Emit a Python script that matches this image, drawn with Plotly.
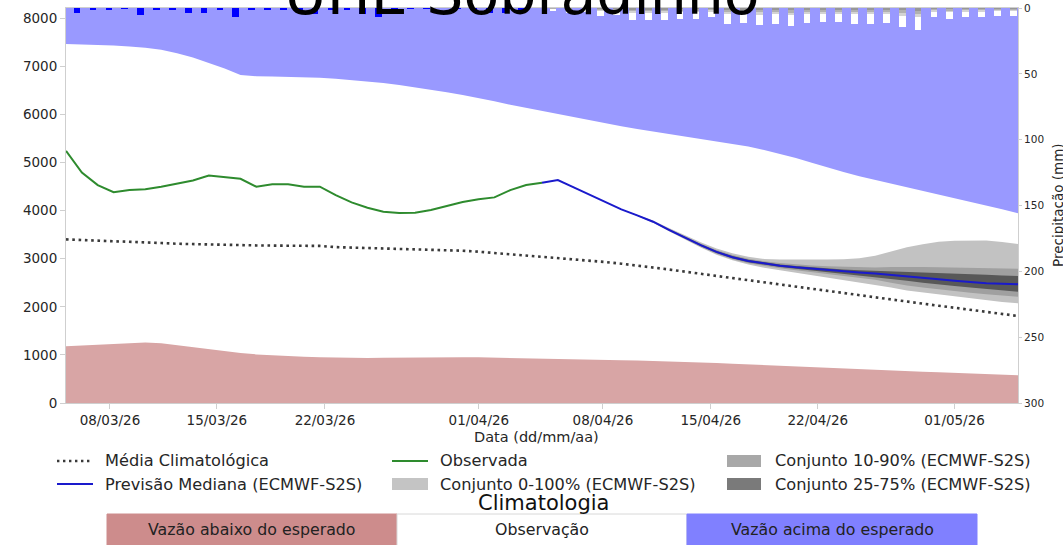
import plotly.graph_objects as go

# ---------------------------------------------------------------- data
day = list(range(61))  # daily index along the horizontal axis

tick_pos = [2.77, 9.51, 16.32, 26.02, 33.84, 40.64, 47.38, 56.0]
tick_text = ["08/03/26", "15/03/26", "22/03/26", "01/04/26",
             "08/04/26", "15/04/26", "22/04/26", "01/05/26"]

# climatology: upper limit, lower limit and mean (m3/s), one value per day
clim_high = [7460, 7455, 7445, 7430, 7410, 7385, 7340, 7270, 7180, 7070,
             6950, 6820, 6790, 6785, 6780, 6770, 6760, 6740, 6715, 6685,
             6650, 6610, 6565, 6515, 6460, 6400, 6340, 6270, 6200, 6135,
             6065, 6000, 5935, 5870, 5810, 5750, 5695, 5645, 5595, 5545,
             5495, 5445, 5390, 5330, 5260, 5180, 5090, 4995, 4895, 4800,
             4715, 4640, 4565, 4490, 4410, 4335, 4255, 4180, 4100, 4025,
             3945]
clim_low = [1180, 1195, 1210, 1225, 1245, 1260, 1240, 1200, 1150, 1110,
            1075, 1040, 1010, 990, 975, 960, 950, 940, 935, 935,
            940, 945, 950, 952, 953, 953, 950, 945, 935, 925,
            915, 910, 905, 900, 895, 890, 883, 875, 865, 855,
            843, 830, 815, 800, 785, 770, 755, 740, 725, 712,
            700, 688, 675, 662, 650, 638, 625, 612, 600, 588,
            575]
clim_mean = [3400, 3390, 3380, 3370, 3355, 3340, 3325, 3310, 3300, 3290,
             3285, 3280, 3275, 3272, 3270, 3268, 3265, 3240, 3230, 3225,
             3220, 3212, 3205, 3195, 3180, 3165, 3145, 3120, 3095, 3065,
             3040, 3015, 2990, 2960, 2930, 2895, 2860, 2820, 2775, 2730,
             2685, 2640, 2595, 2550, 2505, 2460, 2415, 2370, 2325, 2280,
             2235, 2190, 2148, 2105, 2060, 2020, 1980, 1940, 1900, 1855,
             1808]

# observed inflow (days 0-30)
observed = [5240, 4790, 4530, 4380, 4425, 4445, 4495, 4565, 4625, 4730,
            4695, 4660, 4495, 4545, 4545, 4495, 4495, 4320, 4170, 4058,
            3975, 3948, 3955, 4010, 4094, 4177, 4233, 4274, 4426, 4530,
            4578]
obs_start = 0

# median forecast (days 30-60)
fc_median = [4578, 4634, 4482, 4330, 4177, 4025, 3900, 3768, 3600, 3440,
             3280, 3140, 3030, 2950, 2895, 2855, 2820, 2790, 2765, 2740,
             2715, 2692, 2665, 2640, 2605, 2572, 2540, 2510, 2490, 2478,
             2470]
fc_start = 30

# ensemble percentiles (days 35-60)
ens_start = 35
ens_p0 = [4025, 3888, 3745, 3570, 3400, 3230, 3080, 2965, 2880, 2810,
          2760, 2710, 2660, 2610, 2560, 2510, 2460, 2400, 2340, 2300,
          2260, 2220, 2176, 2130, 2100, 2072]
ens_p10 = [4025, 3893, 3755, 3582, 3415, 3248, 3100, 2990, 2905, 2845,
           2800, 2760, 2720, 2680, 2640, 2600, 2560, 2500, 2440, 2400,
           2360, 2330, 2290, 2260, 2230, 2209]
ens_p25 = [4025, 3897, 3762, 3592, 3428, 3262, 3120, 3008, 2925, 2870,
           2825, 2790, 2755, 2720, 2690, 2660, 2620, 2580, 2540, 2500,
           2460, 2430, 2400, 2370, 2340, 2313]
ens_p75 = [4025, 3903, 3775, 3610, 3452, 3298, 3160, 3055, 2975, 2920,
           2880, 2850, 2820, 2795, 2775, 2760, 2750, 2740, 2730, 2715,
           2705, 2690, 2680, 2665, 2650, 2639]
ens_p90 = [4025, 3907, 3782, 3620, 3465, 3315, 3180, 3075, 3000, 2945,
           2910, 2880, 2860, 2840, 2830, 2820, 2815, 2825, 2830, 2825,
           2820, 2815, 2810, 2805, 2800, 2791]
ens_p100 = [4025, 3912, 3795, 3635, 3485, 3340, 3210, 3110, 3040, 2995,
            2985, 2980, 2980, 2985, 2990, 3010, 3060, 3150, 3235, 3300,
            3350, 3370, 3380, 3375, 3345, 3304]

# daily precipitation (mm): observed days 0-29, forecast days 30-59
precip_obs = [4.0, 1.5, 1.5, 0.3, 5.0, 1.5, 1.0, 3.8, 3.8, 1.5,
              7.0, 1.5, 1.5, 1.0, 3.5, 4.5, 1.5, 1.0, 4.5, 7.0,
              1.5, 0.3, 0.2, 0.0, 0.3, 1.5, 3.5, 3.5, 1.5, 0.0]
precip_fc = [2.3, 3.8, 2.7, 6.1, 5.3, 9.1, 9.1, 9.1, 8.4, 8.4,
             6.8, 12.1, 11.4, 12.9, 12.1, 13.7, 11.4, 10.6, 10.6, 12.1,
             12.1, 11.4, 14.4, 16.7, 6.8, 8.4, 6.8, 6.8, 6.1, 6.1]

legend_labels = ["Média Climatológica", "Previsão Mediana (ECMWF-S2S)",
                 "Observada", "Conjunto 0-100% (ECMWF-S2S)",
                 "Conjunto 10-90% (ECMWF-S2S)", "Conjunto 25-75% (ECMWF-S2S)"]
box_labels = ["Vazão abaixo do esperado", "Observação", "Vazão acima do esperado"]

# ---------------------------------------------------------------- layout constants
W, H = 1063, 545
PL, PR, PT, PB = 66, 1018, 8, 403          # plot area edges in pixels
Y_MAX = 8210
P_MAX = 300
BAR_SHIFT = 0.7
BAR_W = 0.42
FONT = "DejaVu Sans"
TXT = "#262626"
SPINE = "#cfcfcf"

BLUE_FILL = "#9999ff"
PINK_FILL = "#d8a5a5"
BLUE_BOX = "#8080ff"
PINK_BOX = "#cd8c8c"
ENS_COL = ["#c2c2c2", "#a0a0a0", "#585858"]
ENS_LEG = ["#c4c4c4", "#a8a8a8", "#7a7a7a"]
OBS_COL = "#2e8b2e"
FC_COL = "#1a1acc"
MEAN_COL = "#3a3a3a"


def px(x):
    return (x - PL) / (PR - PL)


def py(y):
    return (PB - y) / (PB - PT)


fig = go.Figure()

# climatology bands
fig.add_trace(go.Scatter(x=day, y=clim_high, mode="lines", line=dict(width=0),
                         hoverinfo="skip", showlegend=False))
fig.add_trace(go.Scatter(x=day, y=[Y_MAX] * len(day), mode="lines", line=dict(width=0),
                         fill="tonexty", fillcolor=BLUE_FILL, hoverinfo="skip",
                         showlegend=False))
fig.add_trace(go.Scatter(x=day, y=clim_low, mode="lines", line=dict(width=0),
                         fill="tozeroy", fillcolor=PINK_FILL, hoverinfo="skip",
                         showlegend=False))

# ensemble bands
ens_x = day[ens_start:]
for lo, hi, col in [(ens_p0, ens_p100, ENS_COL[0]),
                    (ens_p10, ens_p90, ENS_COL[1]),
                    (ens_p25, ens_p75, ENS_COL[2])]:
    fig.add_trace(go.Scatter(x=ens_x, y=lo, mode="lines", line=dict(width=0),
                             hoverinfo="skip", showlegend=False))
    fig.add_trace(go.Scatter(x=ens_x, y=hi, mode="lines", line=dict(width=0),
                             fill="tonexty", fillcolor=col, hoverinfo="skip",
                             showlegend=False))

# climatological mean, observed and forecast median
fig.add_trace(go.Scatter(x=day, y=clim_mean, mode="lines",
                         line=dict(color=MEAN_COL, width=2.6, dash="2.6px,3.7px"),
                         showlegend=False))
fig.add_trace(go.Scatter(x=day[obs_start:obs_start + len(observed)], y=observed,
                         mode="lines", line=dict(color=OBS_COL, width=2),
                         showlegend=False))
fig.add_trace(go.Scatter(x=day[fc_start:fc_start + len(fc_median)], y=fc_median,
                         mode="lines", line=dict(color=FC_COL, width=2),
                         showlegend=False))

# precipitation bars hanging from the top (secondary reversed axis)
bx_obs = [d + BAR_SHIFT for d in day[:len(precip_obs)]]
bx_fc = [d + BAR_SHIFT for d in day[len(precip_obs):len(precip_obs) + len(precip_fc)]]
fig.add_trace(go.Bar(x=bx_obs, y=precip_obs, yaxis="y2", width=BAR_W,
                     marker=dict(color="#0000ff", line=dict(width=0)),
                     showlegend=False))
fig.add_trace(go.Bar(x=bx_fc, y=precip_fc, yaxis="y2", width=BAR_W,
                     marker=dict(color="#ffffff", line=dict(width=0)),
                     showlegend=False))
# darker shading towards the top of each forecast bar
for frac in [0.4, 0.26, 0.13]:
    fig.add_trace(go.Bar(x=bx_fc, y=[v * frac for v in precip_fc], yaxis="y2",
                         width=BAR_W,
                         marker=dict(color="rgba(70,70,70,0.24)", line=dict(width=0)),
                         showlegend=False))

shapes = []
annotations = []

# legend (three columns, two rows)
rows = [461, 484]
cols = [(57, 93, 103), (392, 428, 438), (727, 761, 773)]
handles = [("dash", MEAN_COL), ("line", FC_COL), ("line", OBS_COL),
           ("box", ENS_LEG[0]), ("box", ENS_LEG[1]), ("box", ENS_LEG[2])]
for i, (lab, (kind, col)) in enumerate(zip(legend_labels, handles)):
    c = cols[i // 2]
    r = rows[i % 2]
    if kind == "box":
        shapes.append(dict(type="rect", xref="paper", yref="paper",
                           x0=px(c[0]), x1=px(c[1]), y0=py(r + 6), y1=py(r - 6),
                           fillcolor=col, line=dict(width=0)))
    else:
        shapes.append(dict(type="line", xref="paper", yref="paper",
                           x0=px(c[0]), x1=px(c[1]), y0=py(r), y1=py(r),
                           line=dict(color=col, width=2.4 if kind == "dash" else 2,
                                     dash="2.4px,3.6px" if kind == "dash" else "solid")))
    annotations.append(dict(text=lab, xref="paper", yref="paper", x=px(c[2]), y=py(r),
                            xanchor="left", yanchor="middle", showarrow=False,
                            font=dict(family=FONT, size=16.2, color=TXT)))

# climatology key below the legend
annotations.append(dict(text="Climatologia", xref="paper", yref="paper",
                        x=px(543), y=py(503), xanchor="center", yanchor="middle",
                        showarrow=False, font=dict(family=FONT, size=21, color="#111")))
box_edges = [107, 397, 687, 977]
box_fill = [PINK_BOX, "#ffffff", BLUE_BOX]
for i, lab in enumerate(box_labels):
    shapes.append(dict(type="rect", xref="paper", yref="paper",
                       x0=px(box_edges[i]), x1=px(box_edges[i + 1]),
                       y0=py(570), y1=py(514), fillcolor=box_fill[i],
                       line=dict(color="#d8d8d8" if i == 1 else box_fill[i], width=1)))
    annotations.append(dict(text=lab, xref="paper", yref="paper",
                            x=px((box_edges[i] + box_edges[i + 1]) / 2), y=py(529),
                            xanchor="center", yanchor="middle", showarrow=False,
                            font=dict(family=FONT, size=15.8, color="#222")))

# axis titles and chart title
annotations.append(dict(text="Data (dd/mm/aa)", xref="paper", yref="paper",
                        x=px(536), y=py(437), xanchor="center", yanchor="middle",
                        showarrow=False, font=dict(family=FONT, size=14.5, color=TXT)))
annotations.append(dict(text="Precipitação (mm)", xref="paper", yref="paper",
                        x=px(1058), y=py(205), xanchor="center", yanchor="middle",
                        textangle=-90, showarrow=False,
                        font=dict(family=FONT, size=13.5, color=TXT)))
annotations.append(dict(text="UHE Sobradinho", xref="paper", yref="paper",
                        x=px(522), y=py(-6), xanchor="center", yanchor="middle",
                        showarrow=False, font=dict(family=FONT, size=58.5, color="#000")))

fig.update_layout(
    width=W, height=H,
    margin=dict(l=PL, r=W - PR, t=PT, b=H - PB, pad=0),
    paper_bgcolor="white", plot_bgcolor="white",
    barmode="overlay", bargap=0,
    showlegend=False,
    font=dict(family=FONT, color=TXT),
    xaxis=dict(range=[0, 60], tickmode="array", tickvals=tick_pos, ticktext=tick_text,
               ticks="outside", ticklen=5, tickcolor=SPINE, showline=True,
               linecolor=SPINE, linewidth=1, mirror=True, showgrid=False,
               zeroline=False, tickfont=dict(family=FONT, size=13.5, color=TXT),
               automargin=False),
    yaxis=dict(range=[0, Y_MAX], tickmode="array", tickvals=list(range(0, 8001, 1000)),
               ticks="outside", ticklen=5, tickcolor=SPINE, showline=True,
               linecolor=SPINE, linewidth=1, showgrid=False, zeroline=False,
               tickfont=dict(family=FONT, size=13.5, color=TXT), automargin=False),
    yaxis2=dict(range=[P_MAX, 0], overlaying="y", side="right", anchor="x",
                tickmode="array", tickvals=list(range(0, P_MAX + 1, 50)),
                ticks="outside", ticklen=3, tickcolor=SPINE, showline=True,
                linecolor=SPINE, linewidth=1, showgrid=False, zeroline=False,
                tickfont=dict(family=FONT, size=10.5, color=TXT), automargin=False),
    shapes=shapes,
    annotations=annotations,
)

fig.write_html("out.html")
